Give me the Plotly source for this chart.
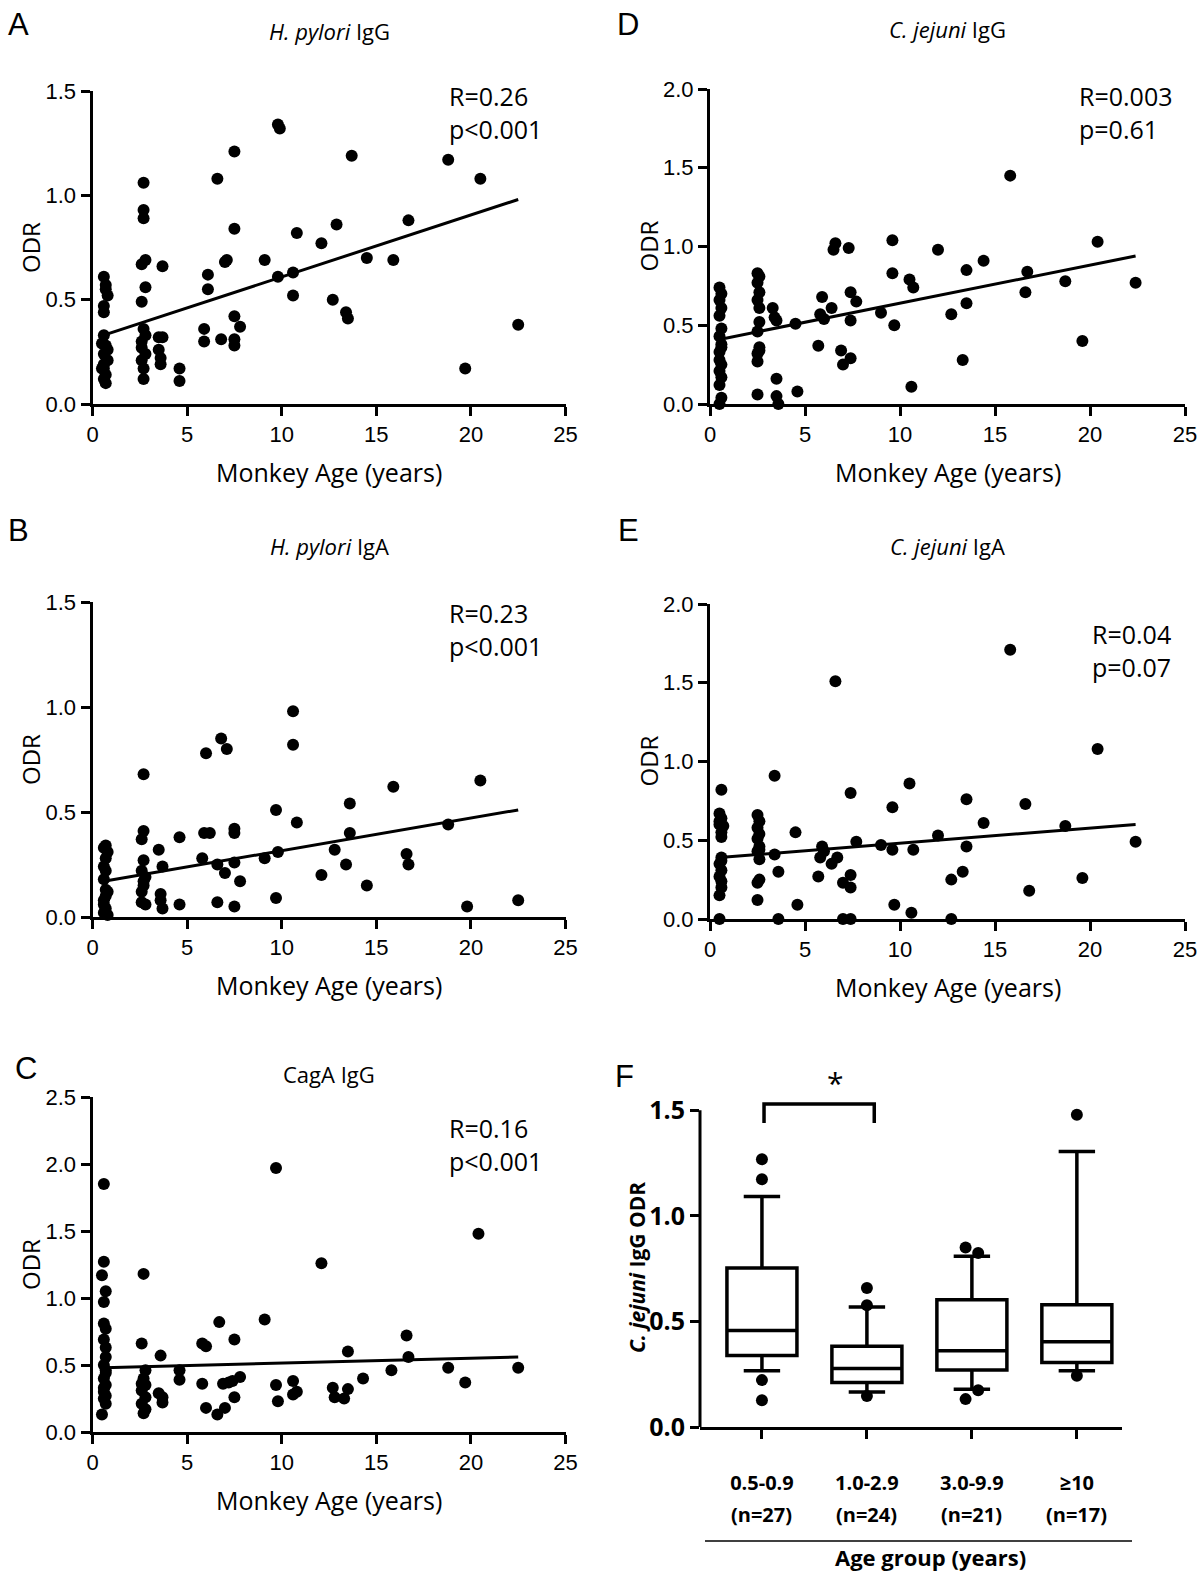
import plotly.graph_objects as go

W, H = 1200, 1574

# ---- data ---------------------------------------------------------------
a_age = [0.6, 0.7, 0.8, 0.6, 0.6, 0.6, 0.7, 0.6, 0.8, 0.6, 0.7, 0.6, 0.7, 0.5, 0.8, 0.6, 0.7, 0.5,
         2.7, 2.7, 2.7, 2.8, 2.6, 2.8, 2.6, 2.7, 2.8, 2.6, 2.8, 2.6, 2.7, 2.7, 2.6,
         3.7, 3.5, 3.7, 3.5, 3.6, 3.6, 4.6, 4.6,
         5.9, 5.9, 6.1, 6.1, 6.6, 6.8, 7.1, 7.0, 7.5, 7.5, 7.5, 7.5, 7.5, 7.8, 9.1, 9.8, 9.9, 9.8,
         10.6, 10.6, 10.8, 12.1, 12.7, 12.9, 13.4, 13.5, 13.7, 14.5, 15.9, 16.7, 18.8, 19.7, 20.5, 22.5]
a_odr = [0.61, 0.57, 0.52, 0.47, 0.44, 0.33, 0.28, 0.24, 0.21, 0.17, 0.14, 0.12, 0.10, 0.29, 0.26, 0.19, 0.55, 0.17,
         1.06, 0.93, 0.89, 0.69, 0.67, 0.56, 0.49, 0.36, 0.33, 0.27, 0.24, 0.21, 0.17, 0.12, 0.30,
         0.66, 0.32, 0.32, 0.26, 0.22, 0.19, 0.17, 0.11,
         0.36, 0.30, 0.62, 0.55, 1.08, 0.31, 0.69, 0.68, 1.21, 0.84, 0.42, 0.31, 0.28, 0.37, 0.69, 1.34, 1.32, 0.61,
         0.63, 0.52, 0.82, 0.77, 0.50, 0.86, 0.44, 0.41, 1.19, 0.70, 0.69, 0.88, 1.17, 0.17, 1.08, 0.38]
a_fit_age = [0.6, 22.5]
a_fit_odr = [0.33, 0.98]

b_age = [0.7, 0.8, 0.7, 0.6, 0.7, 0.6, 0.8, 0.7, 0.6, 0.7, 0.6, 0.8, 0.6, 0.7, 0.6,
         2.7, 2.7, 2.6, 2.7, 2.6, 2.8, 2.7, 2.6, 2.6, 2.8, 2.7,
         3.5, 3.7, 3.6, 3.6, 3.7,
         4.6, 4.6, 5.8, 5.9, 6.2, 6.0, 6.6, 6.6, 6.8, 7.0, 7.1, 7.5, 7.5, 7.5, 7.5, 7.8, 9.1, 9.7, 9.8, 9.7,
         10.6, 10.6, 10.8, 12.1, 12.8, 13.4, 13.6, 13.6, 14.5, 15.9, 16.6, 16.7, 18.8, 19.8, 20.5, 22.5]
b_odr = [0.34, 0.31, 0.28, 0.24, 0.22, 0.18, 0.12, 0.10, 0.08, 0.04, 0.02, 0.01, 0.33, 0.13, 0.06,
         0.68, 0.41, 0.37, 0.27, 0.22, 0.19, 0.15, 0.12, 0.07, 0.06, 0.17,
         0.32, 0.24, 0.11, 0.08, 0.04,
         0.38, 0.06, 0.28, 0.40, 0.40, 0.78, 0.25, 0.07, 0.85, 0.21, 0.80, 0.42, 0.40, 0.26, 0.05, 0.17, 0.28, 0.51, 0.31, 0.09,
         0.98, 0.82, 0.45, 0.20, 0.32, 0.25, 0.54, 0.40, 0.15, 0.62, 0.30, 0.25, 0.44, 0.05, 0.65, 0.08]
b_fit_age = [0.6, 22.5]
b_fit_odr = [0.17, 0.51]

c_age = [0.6, 0.6, 0.5, 0.7, 0.6, 0.6, 0.7, 0.6, 0.7, 0.7, 0.6, 0.7, 0.6, 0.7, 0.6, 0.7, 0.6, 0.7, 0.5, 0.6, 0.7,
         2.7, 2.6, 2.8, 2.7, 2.8, 2.6, 2.8, 2.6, 2.8, 2.7, 2.6,
         3.6, 3.5, 3.7, 3.7,
         4.6, 4.6, 5.8, 6.0, 5.8, 6.0, 6.6, 6.7, 6.9, 7.0, 7.2, 7.5, 7.4, 7.5, 7.8, 9.1, 9.7, 9.7, 9.8,
         10.6, 10.6, 10.8, 12.1, 12.7, 12.8, 13.3, 13.5, 13.5, 14.3, 15.8, 16.6, 16.7, 18.8, 19.7, 20.4, 22.5]
c_odr = [1.85, 1.27, 1.17, 1.05, 0.97, 0.81, 0.77, 0.69, 0.63, 0.56, 0.50, 0.46, 0.40, 0.35, 0.30, 0.27, 0.25, 0.21, 0.13, 0.33, 0.44,
         1.18, 0.66, 0.46, 0.40, 0.35, 0.31, 0.26, 0.21, 0.17, 0.14, 0.36,
         0.57, 0.29, 0.26, 0.22,
         0.46, 0.39, 0.66, 0.64, 0.36, 0.18, 0.13, 0.82, 0.36, 0.18, 0.37, 0.69, 0.38, 0.26, 0.41, 0.84, 1.97, 0.35, 0.23,
         0.38, 0.28, 0.30, 1.26, 0.33, 0.26, 0.25, 0.32, 0.60, 0.40, 0.46, 0.72, 0.56, 0.48, 0.37, 1.48, 0.48]
c_fit_age = [0.6, 22.5]
c_fit_odr = [0.48, 0.56]

d_age = [0.5, 0.6, 0.5, 0.6, 0.5, 0.6, 0.5, 0.6, 0.5, 0.6, 0.5, 0.6, 0.5, 0.6, 0.5, 0.6, 0.5,
         2.5, 2.6, 2.5, 2.6, 2.5, 2.6, 2.6, 2.5, 2.6, 2.5, 2.5, 2.5, 2.6,
         3.3, 3.4, 3.5, 3.5, 3.5, 3.6,
         4.5, 4.6, 5.7, 5.8, 6.0, 5.9, 6.4, 6.6, 6.5, 6.9, 7.0, 7.3, 7.4, 7.4, 7.4, 7.7, 9.0, 9.6, 9.6, 9.7,
         10.5, 10.6, 10.7, 12.0, 12.7, 13.3, 13.5, 13.5, 14.4, 15.8, 16.6, 16.7, 18.7, 19.6, 20.4, 22.4]
d_odr = [0.74, 0.70, 0.66, 0.61, 0.56, 0.48, 0.43, 0.36, 0.28, 0.25, 0.21, 0.17, 0.12, 0.04, 0.00, 0.38, 0.33,
         0.83, 0.81, 0.77, 0.71, 0.66, 0.61, 0.52, 0.46, 0.36, 0.32, 0.27, 0.06, 0.34,
         0.61, 0.55, 0.53, 0.16, 0.05, 0.00,
         0.51, 0.08, 0.37, 0.57, 0.54, 0.68, 0.61, 1.02, 0.98, 0.34, 0.25, 0.99, 0.71, 0.53, 0.29, 0.65, 0.58, 1.04, 0.83, 0.50,
         0.79, 0.11, 0.74, 0.98, 0.57, 0.28, 0.85, 0.64, 0.91, 1.45, 0.71, 0.84, 0.78, 0.40, 1.03, 0.77]
d_fit_age = [0.5, 22.4]
d_fit_odr = [0.41, 0.94]

e_age = [0.6, 0.5, 0.6, 0.5, 0.7, 0.6, 0.6, 0.6, 0.5, 0.6, 0.5, 0.6, 0.6, 0.5, 0.5, 0.6, 0.5,
         2.5, 2.6, 2.5, 2.6, 2.5, 2.6, 2.5, 2.6, 2.6, 2.5, 2.5, 2.6,
         3.4, 3.4, 3.6, 3.6,
         4.5, 4.6, 5.7, 5.8, 5.9, 6.0, 6.4, 6.6, 6.7, 7.0, 7.0, 7.4, 7.4, 7.4, 7.4, 7.7, 9.0, 9.6, 9.6, 9.7,
         10.5, 10.6, 10.7, 12.0, 12.7, 12.7, 13.3, 13.5, 13.5, 14.4, 15.8, 16.6, 16.8, 18.7, 19.6, 20.4, 22.4]
e_odr = [0.82, 0.67, 0.64, 0.60, 0.59, 0.55, 0.52, 0.39, 0.35, 0.31, 0.27, 0.24, 0.20, 0.15, 0.00, 0.37, 0.62,
         0.66, 0.62, 0.58, 0.54, 0.51, 0.46, 0.43, 0.38, 0.25, 0.23, 0.12, 0.44,
         0.91, 0.41, 0.30, 0.00,
         0.55, 0.09, 0.27, 0.39, 0.46, 0.43, 0.35, 1.51, 0.39, 0.23, 0.00, 0.80, 0.28, 0.20, 0.00, 0.49, 0.47, 0.71, 0.44, 0.09,
         0.86, 0.04, 0.44, 0.53, 0.25, 0.00, 0.30, 0.76, 0.46, 0.61, 1.71, 0.73, 0.18, 0.59, 0.26, 1.08, 0.49]
e_fit_age = [0.5, 22.4]
e_fit_odr = [0.39, 0.60]

# panel F: C. jejuni IgG ODR by age group (box summaries)
f_groups = ["0.5-0.9", "1.0-2.9", "3.0-9.9", "≥10"]
f_counts = [27, 24, 21, 17]
f_low = [0.266, 0.166, 0.179, 0.266]
f_q1 = [0.338, 0.211, 0.270, 0.306]
f_med = [0.457, 0.277, 0.361, 0.404]
f_q3 = [0.753, 0.382, 0.603, 0.579]
f_high = [1.091, 0.568, 0.809, 1.305]
f_out_group = [0, 0, 0, 0, 1, 1, 1, 2, 2, 2, 2, 3, 3]
f_out_dodge = [0, 0, 0, 0, 0, 0, 0, -0.06, 0.06, 0.06, -0.06, 0, 0]
f_out_odr = [1.268, 1.173, 0.222, 0.127, 0.658, 0.576, 0.147, 0.850, 0.824, 0.174, 0.132, 1.479, 0.243]
f_sig_x = [0.02, 0.02, 1.07, 1.07]
f_sig_y = [1.44, 1.53, 1.53, 1.44]

# ---- layout helpers ----------------------------------------------------------
def fx(p):
    return p / W

def fy(p):
    return 1 - p / H

TXT = "Open Sans"
TICK = "Liberation Sans"
BLACK = "black"

fig = go.Figure()
annotations = []
shapes = []
layout = {}

panels = [
    # axis id, data, x span, y span (bottom, top), y max, letter, letter pos, title, title y, stats, stats pos
    ("", a_age, a_odr, a_fit_age, a_fit_odr, (92.5, 565.5), (404, 91), 1.5, "A", (18, 24),
     "<i>H. pylori</i> IgG", 31, "R=0.26<br>p&lt;0.001", (447, 113)),
    ("2", b_age, b_odr, b_fit_age, b_fit_odr, (92.5, 565.5), (917, 602), 1.5, "B", (18, 531),
     "<i>H. pylori</i> IgA", 546, "R=0.23<br>p&lt;0.001", (447, 630)),
    ("3", c_age, c_odr, c_fit_age, c_fit_odr, (92.5, 565.5), (1432, 1097), 2.5, "C", (26, 1068),
     "CagA IgG", 1074, "R=0.16<br>p&lt;0.001", (447, 1144)),
    ("4", d_age, d_odr, d_fit_age, d_fit_odr, (710, 1185), (404, 89), 2.0, "D", (628, 24),
     "<i>C. jejuni</i> IgG", 29, "R=0.003<br>p=0.61", (1077, 113)),
    ("5", e_age, e_odr, e_fit_age, e_fit_odr, (710, 1185), (919, 604), 2.0, "E", (628, 531),
     "<i>C. jejuni</i> IgA", 546, "R=0.04<br>p=0.07", (1090, 650)),
]

for (ax, xs, ys, fxs, fys, xspan, yspan, ymax, letter, lpos, title, ty, stats, spos) in panels:
    xr, yr = "x" + ax, "y" + ax
    fig.add_trace(go.Scatter(x=xs, y=ys, mode="markers", xaxis=xr, yaxis=yr,
                             marker=dict(size=12, color=BLACK), cliponaxis=False, showlegend=False))
    fig.add_trace(go.Scatter(x=fxs, y=fys, mode="lines", xaxis=xr, yaxis=yr,
                             line=dict(color=BLACK, width=3), showlegend=False))
    ticks = [i * 0.5 for i in range(int(ymax / 0.5) + 1)]
    layout["xaxis" + ax] = dict(domain=[fx(xspan[0]), fx(xspan[1])], anchor=yr, range=[0, 25],
                                tickvals=[0, 5, 10, 15, 20, 25], showline=True, linewidth=3, linecolor=BLACK,
                                ticks="outside", ticklen=9, tickwidth=3, tickcolor=BLACK, showgrid=False,
                                zeroline=False, automargin=False,
                                tickfont=dict(family=TICK, size=22, color=BLACK))
    layout["yaxis" + ax] = dict(domain=[fy(yspan[0]), fy(yspan[1])], anchor=xr, range=[0, ymax],
                                tickvals=ticks, ticktext=["%.1f" % t for t in ticks], showline=True,
                                linewidth=3, linecolor=BLACK, ticks="outside", ticklen=9, tickwidth=3,
                                tickcolor=BLACK, showgrid=False, zeroline=False, automargin=False,
                                tickfont=dict(family=TICK, size=22, color=BLACK))
    xc = (xspan[0] + xspan[1]) / 2
    yc = (yspan[0] + yspan[1]) / 2
    annotations += [
        dict(text=letter, x=fx(lpos[0]), y=fy(lpos[1]), font=dict(family=TICK, size=31, color=BLACK)),
        dict(text=title, x=fx(xc), y=fy(ty), font=dict(family=TXT, size=22, color=BLACK)),
        dict(text="Monkey Age (years)", x=fx(xc), y=fy(yspan[0] + 68), font=dict(family=TXT, size=25, color=BLACK)),
        dict(text="ODR", x=fx(xspan[0] - 62), y=fy(yc), textangle=-90, font=dict(family=TXT, size=24, color=BLACK)),
        dict(text=stats, x=fx(spos[0]), y=fy(spos[1]), xanchor="left", align="left",
             font=dict(family=TXT, size=25, color=BLACK)),
    ]

# ---- panel F -------------------------------------------------------------------
for i in range(len(f_groups)):
    fig.add_trace(go.Box(x=[i], q1=[f_q1[i]], median=[f_med[i]], q3=[f_q3[i]],
                         lowerfence=[f_low[i]], upperfence=[f_high[i]], boxpoints=False,
                         width=0.667, whiskerwidth=0.52, fillcolor="white",
                         line=dict(color=BLACK, width=3.5), xaxis="x6", yaxis="y6", showlegend=False))
fig.add_trace(go.Scatter(x=[g + d for g, d in zip(f_out_group, f_out_dodge)], y=f_out_odr, mode="markers",
                         marker=dict(size=12, color=BLACK), xaxis="x6", yaxis="y6",
                         cliponaxis=False, showlegend=False))
fig.add_trace(go.Scatter(x=f_sig_x, y=f_sig_y, mode="lines", line=dict(color=BLACK, width=3.5),
                         xaxis="x6", yaxis="y6", showlegend=False))

layout["xaxis6"] = dict(domain=[fx(700), fx(1122)], anchor="y6", range=[-0.59, 3.43],
                        tickvals=list(range(len(f_groups))), ticktext=f_groups,
                        showline=True, linewidth=3, linecolor=BLACK, ticks="outside", ticklen=9,
                        tickwidth=3, tickcolor=BLACK, showgrid=False, zeroline=False, ticklabelstandoff=27,
                        automargin=False, tickfont=dict(family=TXT, size=20, color=BLACK, weight="bold"))
layout["yaxis6"] = dict(domain=[fy(1427), fy(1068)], anchor="x6", range=[0, 1.7],
                        tickvals=[0, 0.5, 1.0, 1.5], ticktext=["0.0", "0.5", "1.0", "1.5"],
                        showline=False, ticks="outside", ticklen=9, tickwidth=3, tickcolor=BLACK,
                        showgrid=False, zeroline=False, automargin=False,
                        tickfont=dict(family=TXT, size=25, color=BLACK, weight="bold"))
shapes += [
    dict(type="line", xref="x6 domain", yref="y6", x0=0, x1=0, y0=0, y1=1.5,
         line=dict(color=BLACK, width=3)),
    dict(type="line", xref="paper", yref="paper", x0=fx(705), x1=fx(1132), y0=fy(1541), y1=fy(1541),
         line=dict(color=BLACK, width=1.5)),
]
for i, n in enumerate(f_counts):
    annotations.append(dict(text="(n=%d)" % n, x=i, xref="x6", y=fy(1514),
                            font=dict(family=TXT, size=20, color=BLACK, weight="bold")))
annotations += [
    dict(text="F", x=fx(624), y=fy(1076), font=dict(family=TICK, size=31, color=BLACK)),
    dict(text="*", x=0.7, y=1.63, xref="x6", yref="y6", font=dict(family=TXT, size=30, color=BLACK)),
    dict(text="<i>C. jejuni</i> IgG ODR", x=fx(637), y=fy(1268), textangle=-90,
         font=dict(family=TXT, size=21, color=BLACK, weight="bold")),
    dict(text="Age group (years)", x=fx(930), y=fy(1557),
         font=dict(family=TXT, size=22, color=BLACK, weight="bold")),
]

for a in annotations:
    a.setdefault("xref", "paper")
    a.setdefault("yref", "paper")
    a.setdefault("xanchor", "center")
    a.setdefault("yanchor", "middle")
    a["showarrow"] = False

fig.update_layout(width=W, height=H, margin=dict(l=0, r=0, t=0, b=0, autoexpand=False),
                  paper_bgcolor="white", plot_bgcolor="white",
                  annotations=annotations, shapes=shapes, **layout)

# the page's default body margin would push the figure off the window
fig.write_html("out.html", config={"displayModeBar": False},
               post_script="document.body.style.margin = '0';")
